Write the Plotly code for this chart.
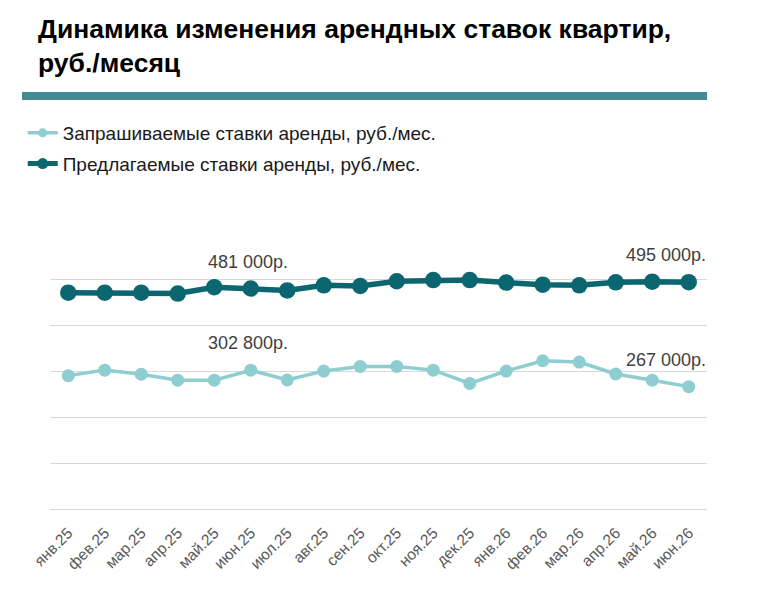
import plotly.graph_objects as go

months = ["янв.25", "фев.25", "мар.25", "апр.25", "май.25", "июн.25", "июл.25", "авг.25", "сен.25",
          "окт.25", "ноя.25", "дек.25", "янв.26", "фев.26", "мар.26", "апр.26", "май.26", "июн.26"]
asking = [291000, 303000, 294000, 281000, 281000, 302800, 281500, 301000, 311000,
          311000, 303000, 274000, 301000, 323500, 320500, 294500, 281000, 267000]
offered = [472000, 472000, 472000, 470000, 484000, 481000, 477000, 488000, 486500,
           497000, 499500, 499500, 494000, 489500, 488000, 494500, 496000, 495000]
label_idx = [5, 17]
name_asking = "Запрашиваемые ставки аренды, руб./мес."
name_offered = "Предлагаемые ставки аренды, руб./мес."
y_ticks = [0, 100000, 200000, 300000, 400000, 500000, 600000]

LIGHT = "#8ecdd0"
DARK = "#0b6670"
FONT = "Liberation Sans, Arial, sans-serif"

W, H = 757, 595
L, R, T, B = 50, 50, 233.5, 85.5
pw, ph = W - L - R, H - T - B

def px(x):
    return (x - L) / pw

def py(y):
    return (H - B - y) / ph

fig = go.Figure()
fig.add_trace(go.Scatter(x=months, y=asking, mode="lines+markers", showlegend=False,
                         line=dict(color=LIGHT, width=3.5), marker=dict(color=LIGHT, size=13)))
fig.add_trace(go.Scatter(x=months, y=offered, mode="lines+markers", showlegend=False,
                         line=dict(color=DARK, width=5.5), marker=dict(color=DARK, size=16.5)))
# legend entries
fig.add_trace(go.Scatter(x=[None], y=[None], mode="lines+markers", name=name_asking, legendgroup="a",
                         line=dict(color=LIGHT, width=3.5), marker=dict(color=LIGHT, size=9)))
fig.add_trace(go.Scatter(x=[None], y=[None], mode="lines+markers", name=name_offered, legendgroup="b",
                         line=dict(color=DARK, width=5), marker=dict(color=DARK, size=11)))

def fmt(v):
    return f"{v:,.0f}".replace(",", " ") + "р."

annotations = []
for series in (asking, offered):
    for i in label_idx:
        last = i == len(months) - 1
        annotations.append(dict(
            x=months[i], y=series[i], xref="x", yref="y", text=fmt(series[i]),
            showarrow=False, yshift=27, xshift=19 if last else -3,
            xanchor="right" if last else "center",
            font=dict(family=FONT, size=18, color="#404040")))

annotations.append(dict(
    x=px(36), y=py(11), xref="paper", yref="paper", xanchor="left", yanchor="top",
    align="left", showarrow=False,
    text="<b>Динамика изменения арендных ставок квартир,<br>руб./месяц</b>",
    font=dict(family=FONT, size=26.5, color="#000000")))

shapes = [dict(type="rect", xref="paper", yref="paper", x0=px(22), x1=px(707), y0=py(99), y1=py(91),
               fillcolor="#428b91", line=dict(width=0), layer="above")]

fig.update_layout(
    width=W, height=H, margin=dict(l=L, r=R, t=T, b=B, autoexpand=False),
    paper_bgcolor="white", plot_bgcolor="white",
    font=dict(family=FONT, color="#404040"),
    annotations=annotations, shapes=shapes,
    legend=dict(xref="container", yref="container", x=0.03, y=1 - 114 / H,
                xanchor="left", yanchor="top", font=dict(family=FONT, size=19, color="#1a1a1a"),
                bgcolor="rgba(0,0,0,0)", traceorder="grouped", tracegroupgap=3),
    xaxis=dict(type="category", range=[-0.5, len(months) - 0.5], tickangle=-45,
               tickmode="array", tickvals=months, ticktext=months,
               showgrid=False, showline=False, ticks="", ticklabelstandoff=11,
               tickfont=dict(family=FONT, size=15.5, color="#595959")),
    yaxis=dict(range=[0, 600000], tickvals=y_ticks, showticklabels=False,
               showgrid=True, gridcolor="#d9d9d9", gridwidth=1,
               zeroline=True, zerolinecolor="#d9d9d9", zerolinewidth=1, showline=False),
)

fig.write_html("out.html")
